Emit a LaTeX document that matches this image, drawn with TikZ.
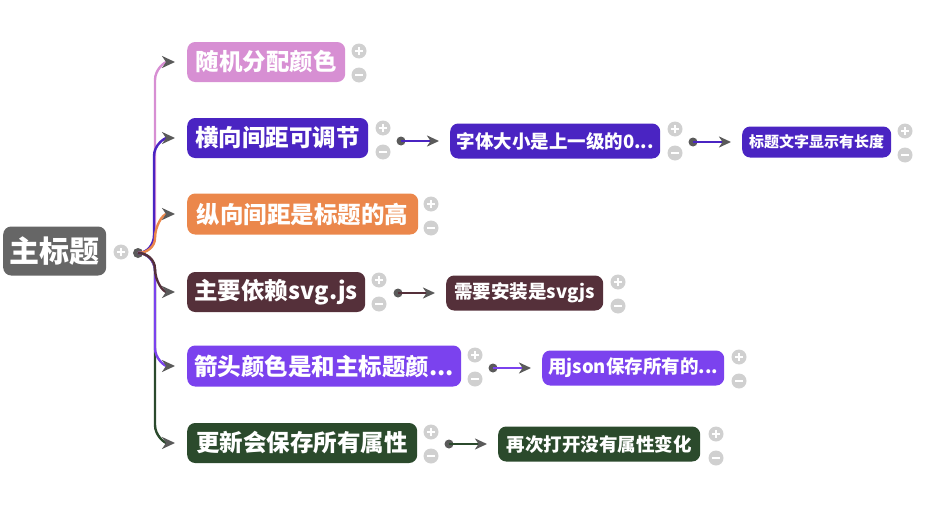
\documentclass[tikz,border=0pt]{standalone}
\usepackage{fontspec}
\newfontfamily\cjk{Noto Sans CJK SC}
\usetikzlibrary{arrows.meta}
\definecolor{rootc}{HTML}{666666}
\definecolor{pinkc}{HTML}{D78FD3}
\definecolor{indigoc}{HTML}{4A24C2}
\definecolor{orangec}{HTML}{EB874B}
\definecolor{brownc}{HTML}{55303A}
\definecolor{purplec}{HTML}{7B42EE}
\definecolor{greenc}{HTML}{2B4A2C}
\definecolor{pmgray}{HTML}{D0D0D0}
\definecolor{dotgray}{HTML}{5A5A5A}
\newcommand\pmpair[3]{%
  \node[pm] (#1p) at (#2,#3) {};
  \draw[white,line width=1.6pt] ([xshift=-4pt]#1p.center) -- ([xshift=4pt]#1p.center);
  \draw[white,line width=1.6pt] ([yshift=-4pt]#1p.center) -- ([yshift=4pt]#1p.center);
  \node[pm] (#1m) at (#2,#3+24) {};
  \draw[white,line width=1.6pt] ([xshift=-4pt]#1m.center) -- ([xshift=4pt]#1m.center);
}
\begin{document}
\begin{tikzpicture}[x=1pt,y=-1pt,
  box/.style={rounded corners=8pt, text=white, inner sep=0pt, anchor=west},
  fa/.style={font=\cjk\bfseries\fontsize{30}{30}\selectfont},
  fb/.style={font=\cjk\bfseries\fontsize{23.5}{23.5}\selectfont},
  fc/.style={font=\cjk\bfseries\fontsize{18.5}{18.5}\selectfont},
  fd/.style={font=\cjk\bfseries\fontsize{15}{15}\selectfont},
  pm/.style={circle, fill=pmgray, minimum size=15pt, inner sep=0pt},
  dotn/.style={circle, fill=dotgray, minimum size=10pt, inner sep=0pt},
  sdot/.style={circle, fill=dotgray, minimum size=9pt, inner sep=0pt},
  conn/.style={line width=2.4pt, -{Stealth[length=13pt,width=12pt,inset=4pt,color=dotgray]}},
  conn2/.style={line width=2.6pt, -{Stealth[length=12pt,width=11pt,inset=3.5pt,color=dotgray]}, shorten >=11pt}
]
\useasboundingbox (0,0) rectangle (943,522);

% root
\node[box, fill=rootc, fa, minimum width=103pt, minimum height=49pt] (root) at (3,251) {主标题};
\node[pm] (rootp) at (121,252) {};
\draw[white,line width=1.6pt] ([xshift=-4pt]rootp.center) -- ([xshift=4pt]rootp.center);
\draw[white,line width=1.6pt] ([yshift=-4pt]rootp.center) -- ([yshift=4pt]rootp.center);
\node[dotn] (rd) at (138,253) {};

% level 1
\node[box, fill=pinkc, fb, minimum width=158pt, minimum height=40pt] (n1) at (187,62) {随机分配颜色};
\node[box, fill=indigoc, fb, minimum width=181pt, minimum height=40pt] (n2) at (187,138) {横向间距可调节};
\node[box, fill=orangec, fb, minimum width=231pt, minimum height=41pt] (n3) at (187,214) {纵向间距是标题的高};
\node[box, fill=brownc, fb, minimum width=178pt, minimum height=40pt] (n4) at (187,292) {主要依赖svg.js};
\node[box, fill=purplec, fb, minimum width=274pt, minimum height=41pt] (n5) at (187,366) {箭头颜色是和主标题颜...};
\node[box, fill=greenc, fb, minimum width=230pt, minimum height=40pt] (n6) at (187,443) {更新会保存所有属性};

\pmpair{a}{359}{51}
\pmpair{b}{383}{128}
\pmpair{c}{431}{204}
\pmpair{d}{379}{280}
\pmpair{e}{475}{355}
\pmpair{f}{431}{432}

% root connectors
\draw[conn, pinkc] (rd.center) to[out=0,in=-90] (155,235) -- (155,80) to[out=90,in=180] ([xshift=-12pt]n1.west);
\draw[conn, indigoc] (rd.center) to[out=0,in=-90] (154,235) -- (154,156) to[out=90,in=180] ([xshift=-12pt]n2.west);
\draw[conn, orangec] (rd.center) to[out=0,in=-90] (155,238) to[out=90,in=180] ([xshift=-12pt]n3.west);
\draw[conn, greenc] (rd.center) to[out=0,in=90] (155,271) -- (155,425) to[out=-90,in=180] ([xshift=-12pt]n6.west);
\draw[conn, purplec] (rd.center) to[out=0,in=90] (155,271) -- (155,348) to[out=-90,in=180] ([xshift=-12pt]n5.west);
\draw[conn, brownc] (rd.center) to[out=0,in=90] (155,269) to[out=-90,in=180] ([xshift=-12pt]n4.west);

% level 2
\node[box, fill=indigoc, fc, minimum width=210pt, minimum height=35pt] (m2) at (450,141) {字体大小是上一级的0...};
\node[box, fill=indigoc, fd, minimum width=149pt, minimum height=31pt] (k2) at (742,142) {标题文字显示有长度};
\node[box, fill=brownc, fc, minimum width=157pt, minimum height=35pt] (m4) at (446,293) {需要安装是svgjs};
\node[box, fill=purplec, fc, minimum width=182pt, minimum height=35pt] (m5) at (542,368) {用json保存所有的...};
\node[box, fill=greenc, fc, minimum width=202pt, minimum height=35pt] (m6) at (498,444) {再次打开没有属性变化};

\pmpair{g}{675}{129}
\pmpair{h}{905}{131}
\pmpair{i}{618}{282}
\pmpair{j}{739}{357}
\pmpair{k}{716}{434}

\node[sdot] (d2) at (401,141) {};
\node[sdot] (e2) at (693,142) {};
\node[sdot] (d4) at (398,293) {};
\node[sdot] (d5) at (493,368) {};
\node[sdot] (d6) at (449,444) {};

\draw[conn2, indigoc] (d2.center) -- (m2.west);
\draw[conn2, indigoc] (e2.center) -- (k2.west);
\draw[conn2, brownc] (d4.center) -- (m4.west);
\draw[conn2, purplec] (d5.center) -- (m5.west);
\draw[conn2, greenc] (d6.center) -- (m6.west);
\end{tikzpicture}
\end{document}
